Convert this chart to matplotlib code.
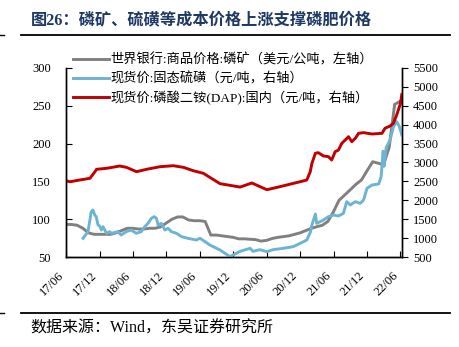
import pandas as pd
import matplotlib
matplotlib.use('Agg')
import matplotlib.pyplot as plt
import matplotlib.dates as mdates
from matplotlib.lines import Line2D

plt.rcParams['font.family'] = ['Liberation Serif', 'Noto Sans CJK SC']

# World Bank phosphate rock price, monthly, USD/t (left axis)
rock_months = pd.date_range('2017-06-01', '2022-06-01', freq='MS')
rock_price = [93, 93, 92, 88, 82, 80, 80, 80, 80, 82, 85, 88,
              88, 87, 87, 88, 88, 90, 95, 100, 103, 103, 99, 98,
              98, 97, 79, 79, 78, 77, 76, 74, 74, 73.5, 73, 71,
              72, 74.5, 76, 77, 78, 80, 82, 85, 88, 90, 92, 97,
              110, 125, 132, 139, 146, 152, 164, 176, 174, 172, 195, 252,
              256]

# solid sulphur spot price, CNY/t (right axis)
sulphur_dates = ['2017-09-02', '2017-09-29', '2017-10-17', '2017-10-26', '2017-11-05',
                 '2017-11-13', '2017-11-23', '2017-12-02', '2017-12-11', '2017-12-20',
                 '2018-01-08', '2018-01-26', '2018-02-04', '2018-03-11', '2018-03-29',
                 '2018-04-26', '2018-05-23', '2018-06-20', '2018-07-17', '2018-08-05',
                 '2018-08-23', '2018-09-10', '2018-09-25', '2018-10-08', '2018-10-17',
                 '2018-11-04', '2018-11-23', '2018-12-10', '2018-12-29', '2019-01-25',
                 '2019-02-22', '2019-03-29', '2019-05-13', '2019-06-03', '2019-07-27',
                 '2019-09-20', '2019-11-14', '2019-12-01', '2020-01-08', '2020-03-03',
                 '2020-03-18', '2020-04-25', '2020-06-02', '2020-07-06', '2020-08-31',
                 '2020-10-24', '2020-12-01', '2021-01-06', '2021-01-25', '2021-02-03',
                 '2021-02-22', '2021-03-01', '2021-04-07', '2021-05-04', '2021-06-01',
                 '2021-06-28', '2021-07-25', '2021-08-12', '2021-09-01', '2021-09-28',
                 '2021-10-25', '2021-11-12', '2021-12-01', '2021-12-28', '2022-02-03',
                 '2022-02-16', '2022-02-27', '2022-03-04', '2022-03-16', '2022-04-06',
                 '2022-04-24', '2022-05-12', '2022-05-27', '2022-06-09']
sulphur_price = [994, 1170, 1700, 1743, 1611,
                 1567, 1346, 1320, 1214, 1302,
                 1127, 1170, 1127, 1170, 1082,
                 1170, 1214, 1127, 1170, 1302,
                 1390, 1523, 1567, 1523, 1346,
                 1390, 1214, 1258, 1170, 1127,
                 1038, 994, 950, 995, 817,
                 685, 508, 553, 650, 730,
                 650, 694, 641, 694, 730,
                 774, 862, 950, 1150, 1346,
                 1637, 1390, 1478, 1567, 1611,
                 1585, 1655, 1964, 1876, 1964,
                 1920, 2008, 2317, 2405, 2432,
                 2624, 3300, 2900, 3400, 3595,
                 3947, 4080, 3947, 3727]

# DAP domestic spot price, CNY/t (right axis)
dap_dates = ['2017-06-01', '2017-06-22', '2017-08-15', '2017-10-10', '2017-11-06',
             '2017-11-15', '2018-01-10', '2018-03-21', '2018-04-27', '2018-06-21',
             '2018-08-15', '2018-10-28', '2019-01-08', '2019-03-04', '2019-04-27',
             '2019-06-21', '2019-09-20', '2020-01-08', '2020-03-12', '2020-06-02',
             '2020-08-12', '2020-12-01', '2021-01-06', '2021-01-25', '2021-02-03',
             '2021-02-22', '2021-03-10', '2021-04-07', '2021-05-04', '2021-05-22',
             '2021-06-10', '2021-06-28', '2021-07-16', '2021-08-04', '2021-08-22',
             '2021-09-09', '2021-09-28', '2021-10-16', '2021-11-12', '2021-12-28',
             '2022-02-21', '2022-03-09', '2022-04-06', '2022-04-24', '2022-05-12',
             '2022-05-21', '2022-06-01', '2022-06-09']
dap_price = [2520, 2490, 2537, 2582, 2757,
             2820, 2847, 2907, 2872, 2757,
             2820, 2889, 2915, 2872, 2783,
             2714, 2440, 2350, 2458, 2280,
             2360, 2492, 2537, 2757, 2979,
             3244, 3260, 3172, 3156, 3066,
             3286, 3330, 3507, 3595, 3683,
             3550, 3640, 3772, 3790, 3754,
             3772, 3905, 3966, 4037, 4257,
             4389, 4550, 4800]

labels = ['世界银行:商品价格:磷矿（美元/公吨，左轴）',
          '现货价:固态硫磺（元/吨，右轴）',
          '现货价:磷酸二铵(DAP):国内（元/吨，右轴）']

W, H = 460, 347
fig = plt.figure(figsize=(W / 100, H / 100), dpi=100)
ax = fig.add_axes([66 / W, 1 - 257 / H, (402 - 66) / W, (257 - 68) / H])
ax2 = ax.twinx()

l1, = ax.plot(rock_months, rock_price, color='#808080', lw=2.1)
l2, = ax2.plot(pd.to_datetime(sulphur_dates), sulphur_price, color='#6DB3D3', lw=2.1)
l3, = ax2.plot(pd.to_datetime(dap_dates), dap_price, color='#C00000', lw=2.1)

ax.set_xlim(pd.Timestamp('2017-06-01'), pd.Timestamp('2022-06-10'))
ax.set_ylim(50, 300)
ax.set_yticks(range(50, 301, 50))
ax2.set_ylim(500, 5500)
ax2.set_yticks(range(500, 5501, 500))

ax.xaxis.set_major_locator(mdates.MonthLocator(bymonth=[6, 12]))
ax.xaxis.set_major_formatter(mdates.DateFormatter('%y/%m'))
for lab in ax.get_xticklabels():
    lab.set_rotation(45)
    lab.set_ha('right')

for a in (ax, ax2):
    a.spines['top'].set_visible(False)
    for s in a.spines.values():
        s.set_linewidth(1.0)
ax.tick_params(axis='y', direction='in', length=4, pad=11, labelsize=9)
ax.tick_params(axis='x', direction='in', length=4, pad=9, labelsize=9)
ax2.tick_params(axis='y', direction='out', length=4, pad=4, labelsize=9)

fig.legend([l1, l2, l3], labels, loc='upper left', bbox_to_anchor=(73 / W, 1 - 53 / H),
           frameon=False, fontsize=9.5, borderpad=0, borderaxespad=0,
           handlelength=2.7, handletextpad=0.15, labelspacing=0.42)

fig.text(31 / W, 1 - 20 / H, '图26：磷矿、硫磺等成本价格上涨支撑磷肥价格',
         fontsize=11.7, fontweight='bold', color='#1F3864', va='center')
fig.add_artist(Line2D([21 / W, 450 / W], [1 - 35 / H, 1 - 35 / H], color='black', lw=1.3))
fig.add_artist(Line2D([0, 4 / W], [1 - 35 / H, 1 - 35 / H], color='black', lw=1.0))
fig.add_artist(Line2D([21 / W, 450 / W], [1 - 313 / H, 1 - 313 / H], color='black', lw=1.3))
fig.add_artist(Line2D([0, 4 / W], [1 - 313 / H, 1 - 313 / H], color='black', lw=1.0))
fig.text(30 / W, 1 - 329 / H, '数据来源：Wind，东吴证券研究所', fontsize=11.5, va='center')

fig.savefig('out.png', dpi=100)
